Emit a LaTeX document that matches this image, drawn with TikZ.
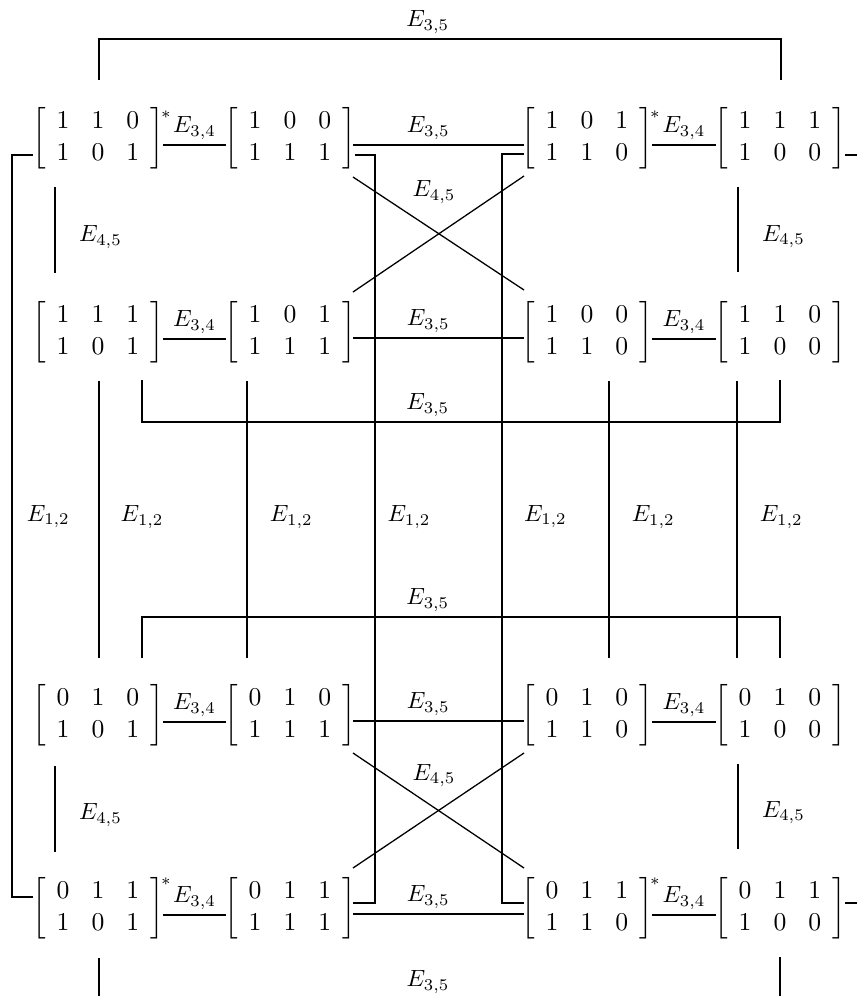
\documentclass[tikz,border=0pt]{standalone}
\usepackage{amsmath}
\usetikzlibrary{calc}
\newcommand{\mtx}[6]{$\setlength{\arraycolsep}{4.7pt}\left[\begin{array}{ccc}#1&#2&#3\\#4&#5&#6\end{array}\right]$}
\begin{document}
\begin{tikzpicture}[x=0.015cm,y=-0.015cm,
  mat/.style={inner sep=0pt,outer sep=0pt,font=\fontsize{10.95}{13.6}\selectfont},
  lab/.style={inner sep=0pt},
  abv/.style={above,inner sep=2pt},
  elab/.style={anchor=west,inner sep=0pt},
  edge/.style={line width=0.55pt},
  bedge/.style={line width=0.8pt},
  starmark/.style={inner sep=0pt,font=\scriptsize}]
\useasboundingbox (0,0) rectangle (857,996);
% matrices
\node[mat] (m11) at (98,138) {\mtx110101};
\node[mat] (m12) at (290,138) {\mtx100111};
\node[mat] (m13) at (587,138) {\mtx101110};
\node[mat] (m14) at (780,138) {\mtx111100};
\node[mat] (m21) at (98,332) {\mtx111101};
\node[mat] (m22) at (290,332) {\mtx101111};
\node[mat] (m23) at (587,332) {\mtx100110};
\node[mat] (m24) at (780,332) {\mtx110100};
\node[mat] (m31) at (98,715) {\mtx010101};
\node[mat] (m32) at (290,715) {\mtx010111};
\node[mat] (m33) at (587,715) {\mtx010110};
\node[mat] (m34) at (780,715) {\mtx010100};
\node[mat] (m41) at (98,908) {\mtx011101};
\node[mat] (m42) at (290,908) {\mtx011111};
\node[mat] (m43) at (587,908) {\mtx011110};
\node[mat] (m44) at (780,908) {\mtx011100};
% stars
\node[starmark] (s11) at ($(m11)+(68,-23)$) {$*$};
\node[starmark] (s13) at ($(m13)+(68,-23)$) {$*$};
\node[starmark] (s41) at ($(m41)+(68,-26)$) {$*$};
\node[starmark] (s43) at ($(m43)+(68,-26)$) {$*$};
% E34 edges
\foreach \a/\b in {m11/m12,m13/m14,m21/m22,m23/m24,m31/m32,m33/m34,m41/m42,m43/m44}{
  \draw[edge] ($(\a)+(65,7)$) -- node[abv] (l34\a) {$E_{3,4}$} ($(\b)+(-64,7)$);
}
% E35 horizontal edges between columns 2 and 3
\draw[bedge] ($(m12)+(63,7)$) -- node[abv,pos=0.44] (h35a) {$E_{3,5}$} ($(m13)+(-63,7)$);
\foreach \a/\b in {m22/m23,m32/m33,m42/m43}{
  \draw[edge] ($(\a)+(63,6)$) -- node[abv,pos=0.44] (h35\a) {$E_{3,5}$} ($(\b)+(-63,6)$);
}
% top and bottom E35
\draw[edge] ($(m11)+(1,-58)$) -- ++(0,-41) -| node[abv,pos=0.241] (t35) {$E_{3,5}$} ($(m14)+(1,-58)$);
\draw[edge] ($(m41)+(1,50)$) -- ++(0,40);
\draw[edge] ($(m44)+(0,49)$) -- ++(0,40);
\node[lab] (b35) at ($(m41)!0.5!(m44)+(-11,74)$) {$E_{3,5}$};
% middle E35 brackets
\draw[bedge] ($(m21)+(44,48)$) -- ++(0,42) -| node[abv,pos=0.224] (mid35a) {$E_{3,5}$} ($(m24)+(0,48)$);
\draw[bedge] ($(m31)+(44,-57)$) -- ++(0,-41) -| node[abv,pos=0.224] (mid35b) {$E_{3,5}$} ($(m34)+(0,-57)$);
% E45 verticals
\draw[edge] ($(m11)+(-43,49)$) -- node[elab,xshift=10pt,yshift=-3pt] (v45a) {$E_{4,5}$} ($(m21)+(-43,-59)$);
\draw[edge] ($(m14)+(-42,49)$) -- node[elab,xshift=10pt,yshift=-3pt] (v45b) {$E_{4,5}$} ($(m24)+(-42,-60)$);
\draw[edge] ($(m31)+(-43,51)$) -- node[elab,xshift=10pt,yshift=-2.5pt] (v45c) {$E_{4,5}$} ($(m41)+(-43,-56)$);
\draw[edge] ($(m34)+(-42,49)$) -- node[elab,xshift=10pt,yshift=-2.5pt] (v45d) {$E_{4,5}$} ($(m44)+(-42,-59)$);
% E45 crossings
\draw[edge] ($(m12)+(63,39)$) -- ($(m23)+(-63,-42)$);
\draw[edge] ($(m13)+(-63,38)$) -- ($(m22)+(63,-40)$);
\node[lab] (x45a) at ($(m12)!0.5!(m23)+(-4.5,-43)$) {$E_{4,5}$};
\draw[edge] ($(m32)+(63,38)$) -- ($(m43)+(-63,-40)$);
\draw[edge] ($(m33)+(-63,38)$) -- ($(m42)+(63,-40)$);
\node[lab] (x45b) at ($(m32)!0.5!(m43)+(-4.5,-36)$) {$E_{4,5}$};
% E12 brackets
\draw[bedge] ($(m11)+(-65,17)$) -- ++(-21,0) |- node[elab,pos=0.25,xshift=6pt,yshift=4pt] (b12a) {$E_{1,2}$} ($(m41)+(-65,-11)$);
\draw[bedge] ($(m12)+(65,17)$) -- ++(20,0) |- node[elab,pos=0.25,xshift=5pt,yshift=5pt] (b12b) {$E_{1,2}$} ($(m42)+(63,-5)$);
\draw[bedge] ($(m13)+(-63,16)$) -- ++(-22,0) |- node[elab,pos=0.25,xshift=9pt,yshift=5pt] (b12c) {$E_{1,2}$} ($(m43)+(-63,-5)$);
\draw[edge] ($(m14)+(65,17)$) -- ++(12,0);
\draw[edge] ($(m44)+(65,-5)$) -- ++(12,0);
% E12 verticals
\draw[edge] ($(m21)+(1,49)$) -- node[elab,xshift=9pt,yshift=1pt] (v12a) {$E_{1,2}$} ($(m31)+(1,-57)$);
\draw[edge] ($(m22)+(-43,49)$) -- node[elab,xshift=9.5pt,yshift=1pt] (v12b) {$E_{1,2}$} ($(m32)+(-43,-57)$);
\draw[edge] ($(m23)+(22,49)$) -- node[elab,xshift=9.5pt,yshift=1pt] (v12c) {$E_{1,2}$} ($(m33)+(22,-57)$);
\draw[edge] ($(m24)+(-43,49)$) -- node[elab,xshift=9.5pt,yshift=1pt] (v12d) {$E_{1,2}$} ($(m34)+(-43,-57)$);
\end{tikzpicture}
\end{document}
